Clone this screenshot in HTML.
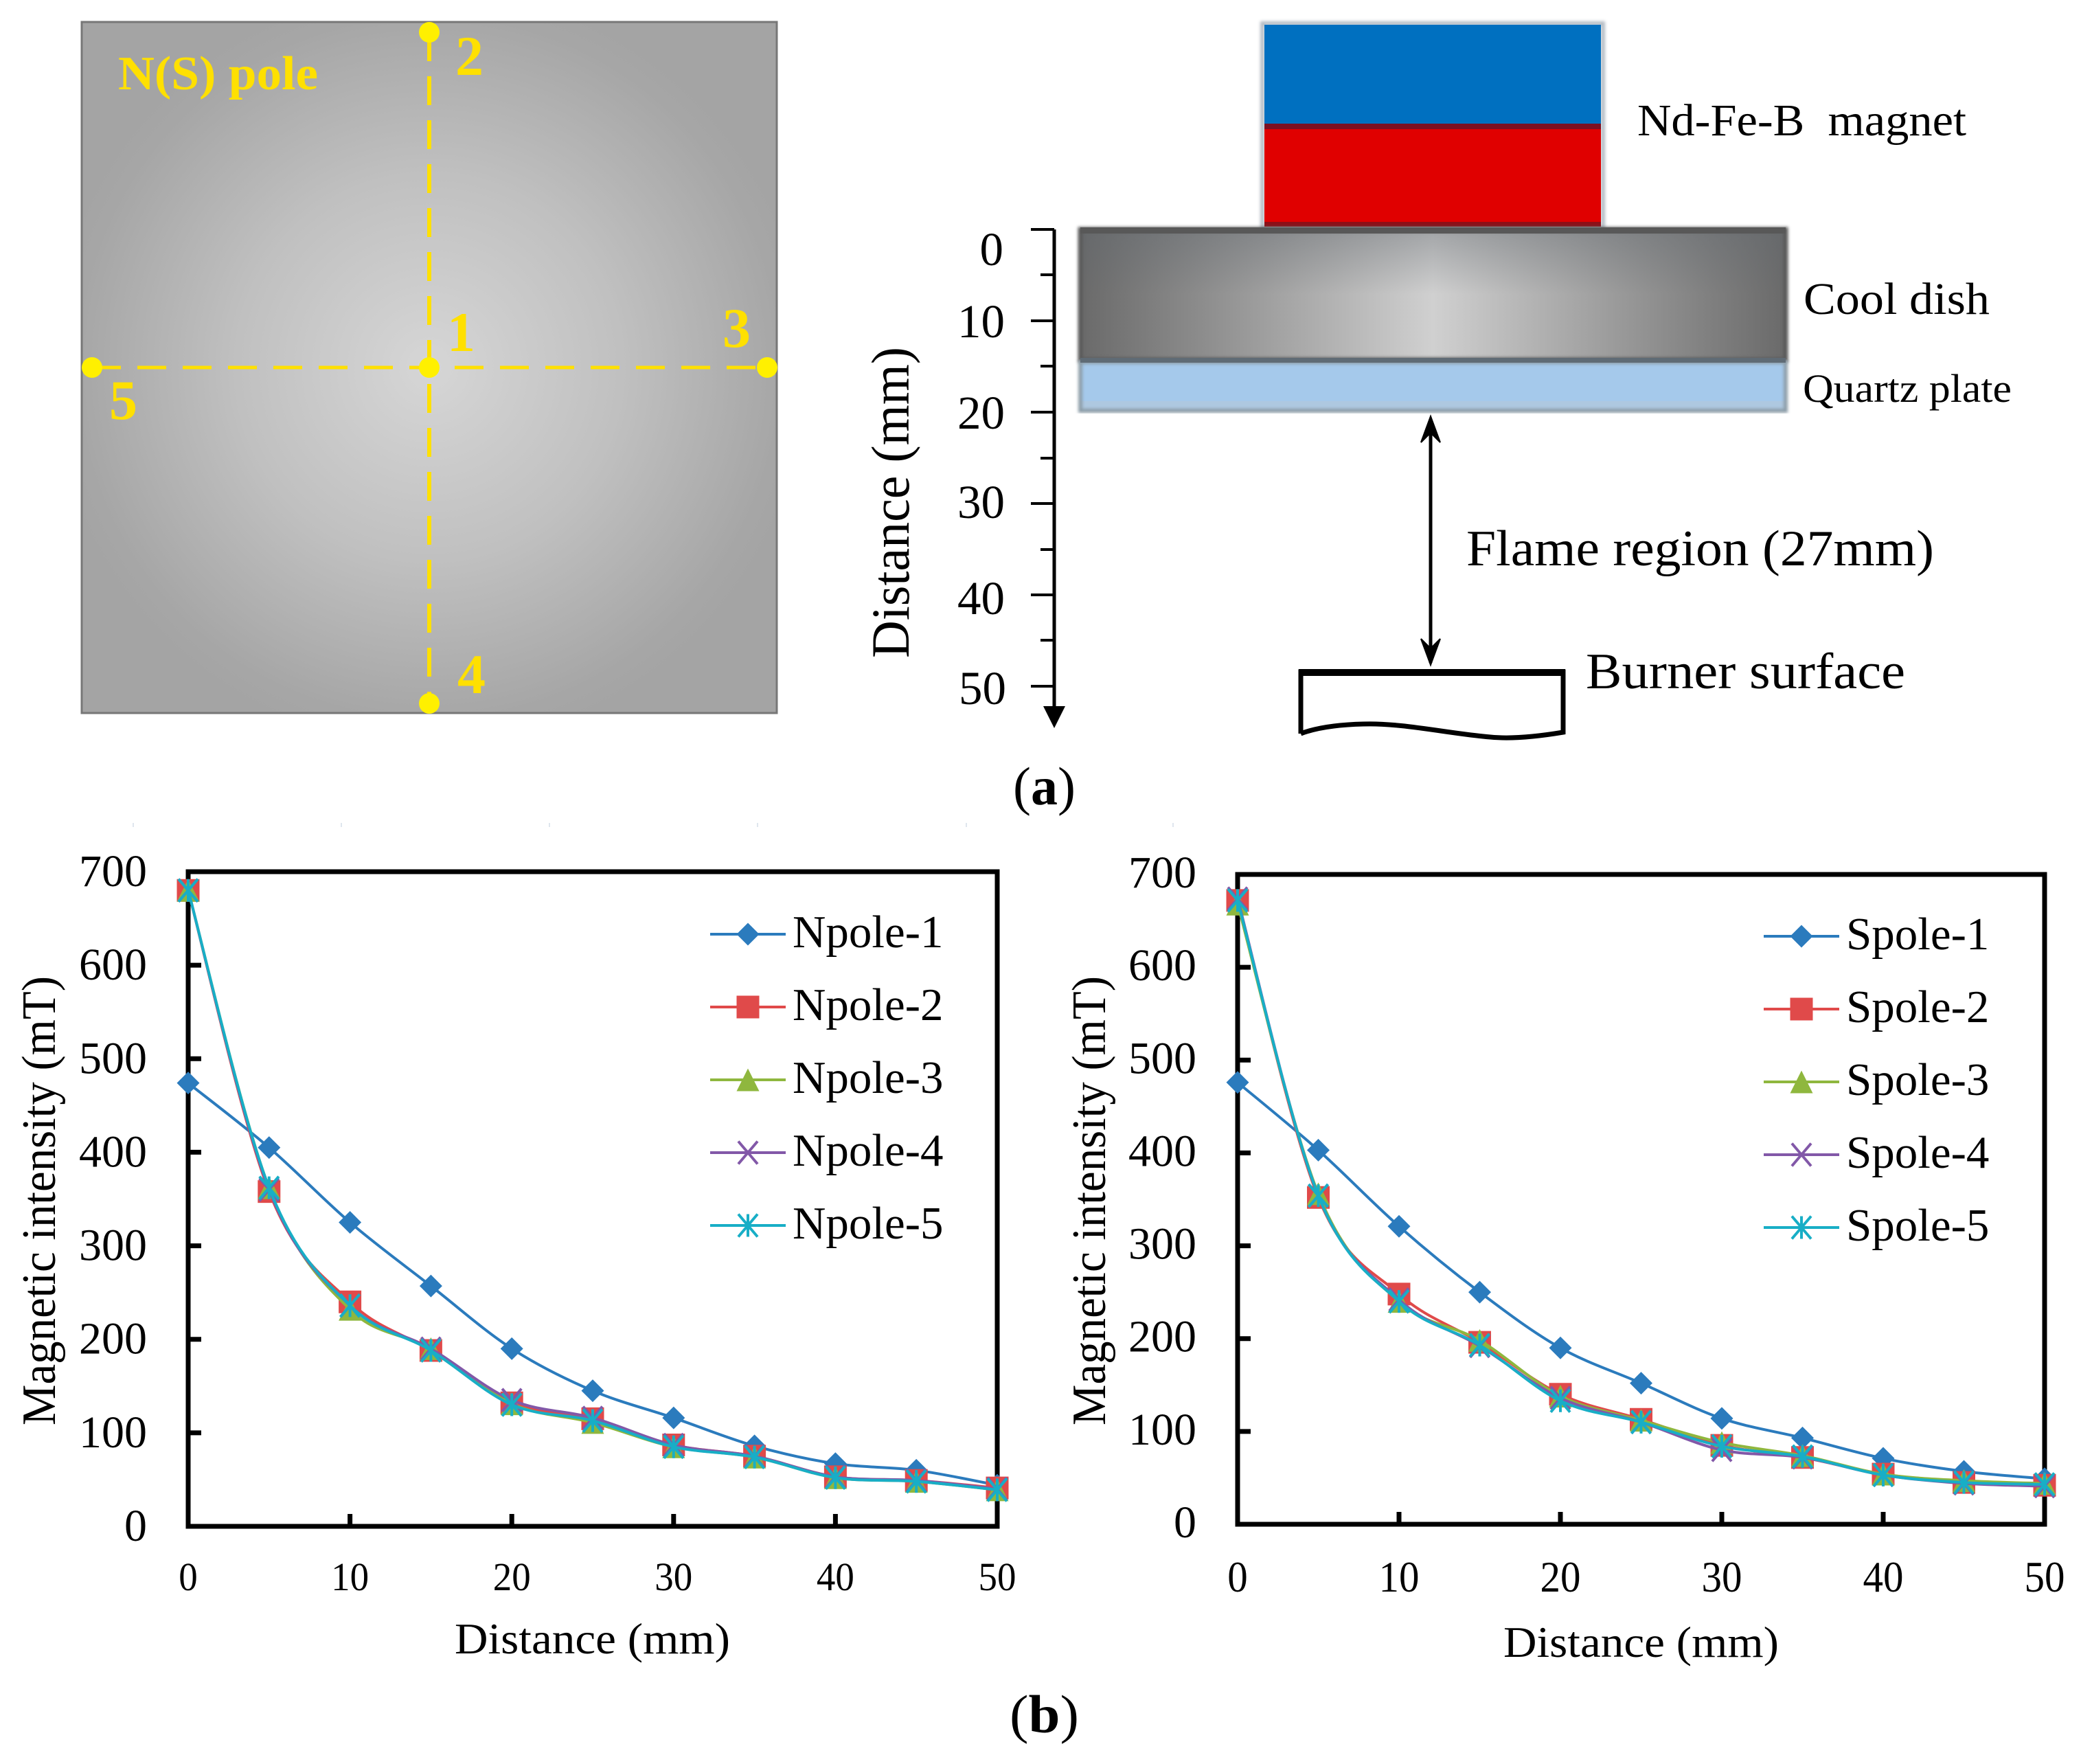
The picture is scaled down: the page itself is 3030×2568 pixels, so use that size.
<!DOCTYPE html>
<html lang="en">
<head>
<meta charset="utf-8">
<title>Magnet assembly and magnetic intensity charts</title>
<style>
html,body{margin:0;padding:0;background:#fff;}
svg{display:block;}
text{font-family:"Liberation Serif",serif;fill:#000;}
</style>
</head>
<body>
<svg id="figure" xmlns="http://www.w3.org/2000/svg" width="3030" height="2568" viewBox="0 0 3030 2568">
<defs>
<radialGradient id="poleGrad" gradientUnits="userSpaceOnUse" cx="625" cy="535" r="560">
<stop offset="0" stop-color="#d6d6d6"/>
<stop offset="0.5" stop-color="#c0c0c0"/>
<stop offset="0.92" stop-color="#a6a6a6"/>
<stop offset="1" stop-color="#a4a4a4"/>
</radialGradient>
<linearGradient id="dishGrad" x1="0" x2="1" y1="0" y2="0">
<stop offset="0" stop-color="#6a6a6a"/>
<stop offset="0.18" stop-color="#8e8e8e"/>
<stop offset="0.5" stop-color="#d0d0d0"/>
<stop offset="0.82" stop-color="#8e8e8e"/>
<stop offset="1" stop-color="#6a6a6a"/>
</linearGradient>
<linearGradient id="dishShade" x1="0" x2="0" y1="0" y2="1">
<stop offset="0" stop-color="#60666c" stop-opacity="0.42"/>
<stop offset="0.5" stop-color="#60666c" stop-opacity="0"/>
<stop offset="1" stop-color="#60666c" stop-opacity="0"/>
</linearGradient>
<filter id="soft" x="-5%" y="-5%" width="110%" height="110%"><feGaussianBlur stdDeviation="2"/></filter>
</defs>
<rect width="3030" height="2568" fill="#fff"/>

<g>
<rect x="119" y="32" width="1012" height="1006" fill="url(#poleGrad)" stroke="#777" stroke-width="3"/>
<line x1="625" y1="47" x2="625" y2="1024" stroke="#ffe000" stroke-width="6" stroke-dasharray="42 22"/>
<line x1="134" y1="535" x2="1117" y2="535" stroke="#ffe000" stroke-width="5" stroke-dasharray="42 24"/>
<ellipse cx="625" cy="535" rx="15" ry="15" fill="#fff000"/>
<ellipse cx="625" cy="47" rx="15" ry="15" fill="#fff000"/>
<ellipse cx="1117" cy="535" rx="15" ry="15" fill="#fff000"/>
<ellipse cx="625" cy="1024" rx="15" ry="15" fill="#fff000"/>
<ellipse cx="134" cy="535" rx="15" ry="15" fill="#fff000"/>
<text x="172" y="130" font-size="70" font-weight="bold" style="fill:#ffe000" textLength="291" lengthAdjust="spacingAndGlyphs">N(S) pole</text>
<text x="651" y="511" font-size="82" font-weight="bold" style="fill:#ffe000">1</text>
<text x="663" y="109" font-size="82" font-weight="bold" style="fill:#ffe000">2</text>
<text x="1052" y="505" font-size="82" font-weight="bold" style="fill:#ffe000">3</text>
<text x="666" y="1009" font-size="82" font-weight="bold" style="fill:#ffe000">4</text>
<text x="159" y="610" font-size="82" font-weight="bold" style="fill:#ffe000">5</text>
</g>

<g>
<rect x="1838" y="34" width="496" height="298" fill="none" stroke="#b4bcc4" stroke-width="6" filter="url(#soft)"/>
<rect x="1841" y="36" width="490" height="146" fill="#0070c0"/>
<rect x="1841" y="187" width="490" height="141" fill="#e00000"/>
<rect x="1841" y="180" width="490" height="8" fill="#7c1022"/>
<rect x="1841" y="323" width="490" height="7" fill="#8c1018"/>
<rect x="1573" y="332" width="1027" height="192" fill="url(#dishGrad)"/>
<rect x="1573" y="332" width="1027" height="192" fill="url(#dishShade)"/>
<rect x="1573" y="334" width="1027" height="190" fill="none" stroke="#5a5a5a" stroke-width="7" filter="url(#soft)"/>
<rect x="1573" y="331" width="1027" height="9" fill="#585858"/>
<rect x="1573" y="527" width="1027" height="71" fill="#a5c9eb"/>
<rect x="1573" y="584" width="1027" height="14" fill="#aec8e0"/>
<rect x="1573" y="527" width="1027" height="71" fill="none" stroke="#8d9ea9" stroke-width="6" filter="url(#soft)"/>
<rect x="1573" y="521" width="1027" height="7" fill="#5f6b75"/>

<line x1="1535" y1="334" x2="1535" y2="1040" stroke="#000" stroke-width="5"/>
<path d="M1519 1028 L1551 1028 L1535 1060 Z" fill="#000"/>
<g stroke="#000" stroke-width="4">
<line x1="1501" y1="334" x2="1535" y2="334"/>
<line x1="1515" y1="400" x2="1535" y2="400"/>
<line x1="1501" y1="467" x2="1535" y2="467"/>
<line x1="1515" y1="533" x2="1535" y2="533"/>
<line x1="1501" y1="600" x2="1535" y2="600"/>
<line x1="1515" y1="667" x2="1535" y2="667"/>
<line x1="1501" y1="733" x2="1535" y2="733"/>
<line x1="1515" y1="800" x2="1535" y2="800"/>
<line x1="1501" y1="866" x2="1535" y2="866"/>
<line x1="1515" y1="932" x2="1535" y2="932"/>
<line x1="1501" y1="999" x2="1535" y2="999"/>
</g>
<g font-size="69" text-anchor="end">
<text x="1461" y="386">0</text>
<text x="1463" y="491">10</text>
<text x="1463" y="624">20</text>
<text x="1463" y="754">30</text>
<text x="1463" y="894">40</text>
<text x="1465" y="1025">50</text>
</g>
<text transform="translate(1323 958) rotate(-90)" font-size="78" textLength="453" lengthAdjust="spacingAndGlyphs">Distance (mm)</text>

<line x1="2083" y1="610" x2="2083" y2="965" stroke="#000" stroke-width="5"/>
<path d="M2069 644 L2083 606 L2097 644 L2083 630 Z" fill="#000" stroke="#000" stroke-width="2"/>
<path d="M2069 930 L2083 968 L2097 930 L2083 944 Z" fill="#000" stroke="#000" stroke-width="2"/>

<path d="M1894 1068 L1894 978 L2276 978 L2276 1066 C2240 1072 2200 1076 2170 1073 C2110 1068 2040 1052 1985 1054 C1945 1055 1915 1060 1894 1068" fill="none" stroke="#000" stroke-width="7"/>
<rect x="1891" y="974" width="388" height="10" fill="#000"/>

<text x="2384" y="197" font-size="66" textLength="479" lengthAdjust="spacingAndGlyphs">Nd-Fe-B&#160;&#160;magnet</text>
<text x="2626" y="457" font-size="66" textLength="271" lengthAdjust="spacingAndGlyphs">Cool dish</text>
<text x="2625" y="585" font-size="58" textLength="304" lengthAdjust="spacingAndGlyphs">Quartz plate</text>
<text x="2135" y="823" font-size="74" textLength="681" lengthAdjust="spacingAndGlyphs">Flame region (27mm)</text>
<text x="2309" y="1002" font-size="74" textLength="465" lengthAdjust="spacingAndGlyphs">Burner surface</text>
</g>

<text x="1475" y="1171" font-size="78">(<tspan font-weight="bold">a</tspan>)</text>
<text x="1470" y="2522" font-size="78" textLength="101" lengthAdjust="spacingAndGlyphs">(<tspan font-weight="bold">b</tspan>)</text>

<g stroke="#dfe6ee" stroke-width="2">
<line x1="194" y1="1198" x2="194" y2="1204"/>
<line x1="497" y1="1198" x2="497" y2="1204"/>
<line x1="800" y1="1198" x2="800" y2="1204"/>
<line x1="1103" y1="1198" x2="1103" y2="1204"/>
<line x1="1407" y1="1198" x2="1407" y2="1204"/>
<line x1="1708" y1="1198" x2="1708" y2="1204"/>
</g>

<g id="chart-n"></g>
<g id="chart-s"></g>
</svg>

<script>
// Shared axis values
const distances = [0, 5, 10, 15, 20, 25, 30, 35, 40, 45, 50];
const xTickLabels = [0, 10, 20, 30, 40, 50];
const yTickLabels = [0, 100, 200, 300, 400, 500, 600, 700];

// North pole readings (mT)
const npoleNames = ['Npole-1', 'Npole-2', 'Npole-3', 'Npole-4', 'Npole-5'];
const npole1 = [474, 405, 325, 257, 190, 145, 116, 86, 67, 60, 44];
const npole2 = [680, 358, 240, 188, 132, 115, 87, 75, 53, 49, 41];
const npole3 = [680, 362, 232, 190, 131, 111, 85, 74, 52, 48, 39];
const npole4 = [680, 360, 236, 190, 135, 116, 87, 75, 53, 49, 40];
const npole5 = [680, 362, 236, 188, 130, 113, 85, 74, 52, 48, 39];

// South pole readings (mT)
const spoleNames = ['Spole-1', 'Spole-2', 'Spole-3', 'Spole-4', 'Spole-5'];
const spole1 = [476, 403, 321, 250, 190, 152, 114, 93, 71, 57, 49];
const spole2 = [672, 352, 248, 196, 140, 113, 85, 72, 54, 45, 42];
const spole3 = [668, 356, 240, 198, 138, 112, 88, 74, 54, 47, 44];
const spole4 = [674, 354, 242, 192, 136, 110, 80, 72, 53, 44, 41];
const spole5 = [672, 354, 240, 193, 133, 110, 84, 73, 53, 45, 43];

const seriesColors = ['#2b7bbd', '#e04a4a', '#8fb73e', '#8258a8', '#18aec6'];
const markerKinds = ['diamond', 'square', 'triangle', 'cross', 'star'];

const SVGNS = 'http://www.w3.org/2000/svg';

function svgEl(tag, parent) {
  const el = document.createElementNS(SVGNS, tag);
  parent.appendChild(el);
  return el;
}

function setAll(el, props) {
  Object.keys(props).forEach(function (k) { el.setAttribute(k, props[k]); });
}

function smoothPath(points) {
  let d = 'M' + points[0][0] + ' ' + points[0][1];
  for (let i = 0; i < points.length - 1; i++) {
    const p0 = points[Math.max(i - 1, 0)];
    const p1 = points[i];
    const p2 = points[i + 1];
    const p3 = points[Math.min(i + 2, points.length - 1)];
    const c1x = p1[0] + (p2[0] - p0[0]) / 6;
    const c1y = p1[1] + (p2[1] - p0[1]) / 6;
    const c2x = p2[0] - (p3[0] - p1[0]) / 6;
    const c2y = p2[1] - (p3[1] - p1[1]) / 6;
    d += ' C' + c1x + ' ' + c1y + ' ' + c2x + ' ' + c2y + ' ' + p2[0] + ' ' + p2[1];
  }
  return d;
}

function markerPath(kind, x, y) {
  const r = 16.5;
  if (kind === 'diamond') {
    return 'M' + x + ' ' + (y - r) + ' L' + (x + r) + ' ' + y + ' L' + x + ' ' + (y + r) + ' L' + (x - r) + ' ' + y + ' Z';
  }
  if (kind === 'square') {
    return 'M' + (x - r) + ' ' + (y - r) + ' H' + (x + r) + ' V' + (y + r) + ' H' + (x - r) + ' Z';
  }
  if (kind === 'triangle') {
    return 'M' + x + ' ' + (y - r) + ' L' + (x + r) + ' ' + (y + r) + ' L' + (x - r) + ' ' + (y + r) + ' Z';
  }
  const a = r * 0.85;
  let d = 'M' + (x - a) + ' ' + (y - r) + ' L' + (x + a) + ' ' + (y + r) + ' M' + (x + a) + ' ' + (y - r) + ' L' + (x - a) + ' ' + (y + r);
  if (kind === 'star') {
    d += ' M' + x + ' ' + (y - r) + ' L' + x + ' ' + (y + r);
  }
  return d;
}

function drawMarker(parent, kind, x, y, color) {
  const m = svgEl('path', parent);
  
  
  m.setAttribute('d', markerPath(kind, x, y));
  if (kind === 'cross' || kind === 'star') {
    setAll(m, { fill: 'none', stroke: color, 'stroke-width': 4 });
  } else {
    setAll(m, { fill: color });
  }
}

function drawChart(root, cfg, names, seriesList) {
  const xScale = function (v) { return cfg.left + (v / 50) * (cfg.right - cfg.left); };
  const yScale = function (v) { return cfg.bottom - (v / 700) * (cfg.bottom - cfg.top); };

  const frame = svgEl('rect', root);
  
  
  setAll(frame, { x: cfg.left, y: cfg.top, width: cfg.right - cfg.left, height: cfg.bottom - cfg.top, fill: 'none', stroke: '#000', 'stroke-width': 7 });

  yTickLabels.forEach(function (v) {
    const y = yScale(v);
    if (v !== 0 && v !== 700) {
      const t = svgEl('line', root);
      
      
      setAll(t, { x1: cfg.left, x2: cfg.left + 19, y1: y, y2: y, stroke: '#000', 'stroke-width': 7 });
    }
    const lab = svgEl('text', root);
    
    
    setAll(lab, { x: cfg.yLabelX, y: y + cfg.yLabelDy, 'font-size': 66, 'text-anchor': 'end' });
    lab.textContent = String(v);
  });

  xTickLabels.forEach(function (v) {
    const x = xScale(v);
    if (v !== 0 && v !== 50) {
      const t = svgEl('line', root);
      
      
      setAll(t, { x1: x, x2: x, y1: cfg.bottom, y2: cfg.bottom - 18, stroke: '#000', 'stroke-width': 7 });
    }
    const lab = svgEl('text', root);
    
    
    const s = String(v);
    setAll(lab, { x: x, y: cfg.xLabelY, 'font-size': cfg.xLabelSize, 'text-anchor': 'middle', textLength: s.length * cfg.xDigit, lengthAdjust: 'spacingAndGlyphs' });
    lab.textContent = s;
  });

  const xt = svgEl('text', root);
  
  
  setAll(xt, { x: cfg.xTitleX, y: cfg.xTitleY, 'font-size': 64, textLength: 401, lengthAdjust: 'spacingAndGlyphs' });
  xt.textContent = 'Distance (mm)';

  const yt = svgEl('text', root);
  
  
  setAll(yt, { transform: 'translate(' + cfg.yTitleX + ' 2075) rotate(-90)', 'font-size': 70, textLength: 654, lengthAdjust: 'spacingAndGlyphs' });
  yt.textContent = 'Magnetic intensity (mT)';

  seriesList.forEach(function (values, i) {
    const pts = values.map(function (v, k) { return [xScale(distances[k]), yScale(v)]; });
    const line = svgEl('path', root);
    
    
    setAll(line, { d: smoothPath(pts), fill: 'none', stroke: seriesColors[i], 'stroke-width': 4 });
    pts.forEach(function (p) { drawMarker(root, markerKinds[i], p[0], p[1], seriesColors[i]); });
  });

  names.forEach(function (name, i) {
    const y = cfg.legendTop + i * 106;
    const ll = svgEl('line', root);
    
    
    setAll(ll, { x1: cfg.legendX, x2: cfg.legendX + 110, y1: y, y2: y, stroke: seriesColors[i], 'stroke-width': 4 });
    drawMarker(root, markerKinds[i], cfg.legendX + 55, y, seriesColors[i]);
    const lt = svgEl('text', root);
    
    
    setAll(lt, { x: cfg.legendX + 120, y: y + 19, 'font-size': 67 });
    lt.textContent = name;
  });
}

drawChart(document.getElementById('chart-n'), {
  left: 274, right: 1452, top: 1269, bottom: 2222,
  yLabelX: 214, yLabelDy: 21, xLabelY: 2315, xLabelSize: 58, xDigit: 27.5,
  xTitleX: 662, xTitleY: 2407, yTitleX: 80,
  legendX: 1034, legendTop: 1360
}, npoleNames, [npole1, npole2, npole3, npole4, npole5]);

drawChart(document.getElementById('chart-s'), {
  left: 1802, right: 2977, top: 1273, bottom: 2219,
  yLabelX: 1742, yLabelDy: 19, xLabelY: 2317, xLabelSize: 64, xDigit: 29.5,
  xTitleX: 2189, xTitleY: 2412, yTitleX: 1609,
  legendX: 2568, legendTop: 1363
}, spoleNames, [spole1, spole2, spole3, spole4, spole5]);
</script>
</body>
</html>
